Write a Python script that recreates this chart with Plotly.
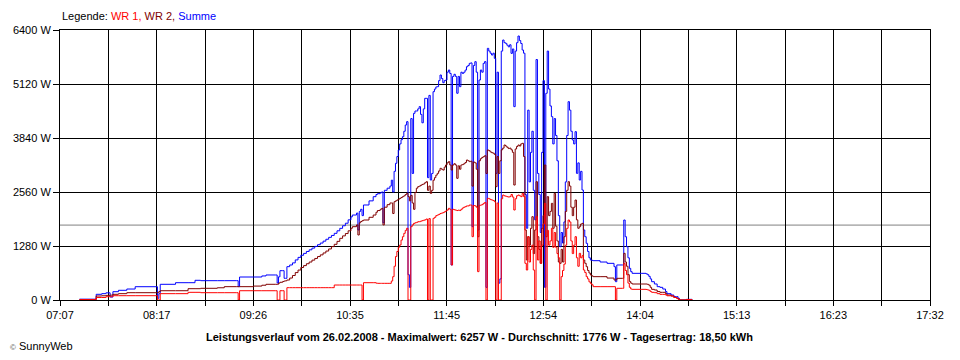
import plotly.graph_objects as go

# ---------------- data ----------------
times = [
    "07:21","07:32","07:33","07:37","07:40","07:43","07:45","07:49","07:55","08:01",
    "08:16","08:17","08:18","08:19","08:30","08:39","08:44","08:48","09:00","09:05",
    "09:14","09:15","09:16","09:26","09:32","09:35","09:42","09:43","09:44","09:45",
    "09:47","09:48","09:49","09:50",
    "09:52","09:54","09:56","09:58","10:00","10:02","10:04","10:06","10:08","10:10",
    "10:12","10:14","10:16","10:18","10:20","10:22","10:24","10:26","10:28","10:30",
    "10:32","10:34","10:36",
    "10:37","10:40","10:41","10:42","10:43","10:44","10:45",
    "10:49","10:52","10:54","10:55","10:57","10:58","10:59","11:00","11:02","11:04",
    "11:05","11:06","11:07","11:08","11:09","11:10","11:11","11:12","11:13","11:14",
    "11:15","11:16","11:17","11:18","11:19","11:20","11:21","11:22","11:23","11:24",
    "11:25","11:26","11:27","11:28","11:29","11:30","11:31","11:32","11:33","11:34",
    "11:35","11:36","11:37","11:38","11:39","11:40","11:41","11:42","11:43","11:44",
    "11:45","11:46","11:47","11:48","11:49","11:50","11:51","11:52","11:53","11:54",
    "11:55","11:56","11:57","11:58","11:59","12:00","12:01","12:02","12:03","12:04",
    "12:05","12:06","12:07","12:08","12:09","12:10","12:11","12:12","12:13","12:14",
    "12:15","12:16","12:17","12:18","12:19","12:20","12:21","12:22","12:23","12:24",
    "12:25","12:26","12:27","12:28","12:29","12:30","12:31","12:32","12:33","12:34",
    "12:35","12:36","12:37","12:38","12:39","12:40","12:41","12:42","12:43","12:44",
    "12:45","12:46","12:47","12:48","12:49","12:50","12:51","12:52","12:53","12:54",
    "12:55","12:56","12:57","12:58","12:59","13:00","13:01","13:02","13:03","13:04",
    "13:05","13:06","13:07","13:08","13:09","13:10","13:11","13:12","13:13","13:14",
    "13:15","13:16","13:17","13:18","13:19","13:20","13:21","13:22","13:23","13:24",
    "13:25","13:26","13:27","13:28","13:29","13:30","13:35","13:40","13:45","13:46",
    "13:47","13:51","13:52","13:53","13:54","13:55","13:56","13:57","13:58","14:05",
    "14:08","14:09","14:10","14:11","14:12","14:14","14:16","14:18","14:20","14:22",
    "14:23","14:26","14:28","14:30","14:31","14:32","14:36","14:37","14:40","14:41",
]

wr1 = [
    10,10,60,60,78,78,102,102,102,102,
    102,0,0,150,150,182,182,173,173,173,
    173,0,220,220,220,220,220,0,0,220,
    220,0,0,292,
    292,292,292,292,292,292,292,292,292,292,
    292,292,292,292,292,292,355,355,355,355,
    355,355,355,
    355,355,355,355,355,0,410,
    410,410,400,395,395,395,395,395,395,395,
    450,553,800,1030,1150,1250,1304,1420,1501,1580,
    1650,1700,0,0,1738,1780,1817,1830,1840,1856,
    1856,1870,1880,1890,1900,1920,0,1930,0,0,
    1936,1960,2000,2014,2030,2050,2060,2070,2090,2110,
    2133,2173,2150,830,2150,2140,2130,2120,2130,2120,
    2150,2180,2200,2212,2230,2230,2252,2250,1501,2240,
    2230,2200,672,2240,2250,2260,2290,2310,0,2410,
    2400,2380,2370,2360,2330,0,2300,0,0,2400,
    2488,2470,2460,2449,2440,2450,2500,2440,2133,2400,
    2470,2488,2470,2450,2528,2450,870,711,1500,900,
    1200,1300,711,0,1975,948,1400,870,1300,1800,
    2291,0,1650,1300,1400,1700,1250,1600,1250,1100,
    1000,0,553,700,850,1300,1700,1896,1850,1400,
    1100,1300,1501,1000,800,1106,1000,1050,711,650,
    553,500,430,395,360,316,316,316,316,0,
    277,277,869,700,600,400,300,260,253,253,
    250,240,230,200,182,173,150,134,134,118,
    100,95,60,40,20,0,0,10,10,0,
]

wr2 = [
    10,10,95,100,110,115,135,150,173,173,
    173,173,200,220,220,268,268,277,290,316,
    316,316,316,330,350,372,372,372,400,420,
    440,450,455,474,
    520,580,650,710,770,815,860,900,945,985,
    1030,1070,1115,1160,1210,1265,1320,1390,1462,1520,
    1575,1640,1700,
    1738,1780,1541,1830,1860,1880,1896,
    1960,2014,2080,2120,2150,2170,1780,2200,2260,2300,
    2300,2050,2330,2350,2370,2390,2410,2430,2450,2470,
    2500,2528,2450,2350,2480,2300,2150,2550,2650,2686,
    2700,2720,2740,2750,2780,2804,2600,2700,2528,2600,
    2840,2900,2960,3002,3060,3121,3100,3080,3150,3200,
    3250,3279,3200,3081,3200,3230,3200,2884,3180,3100,
    3200,3210,3230,3260,3318,3300,3280,3290,2700,3270,
    3250,3100,1500,3300,3350,3380,3398,3420,3000,3556,
    3540,3510,3492,3480,3450,2686,3400,3000,3300,3560,
    3600,3674,3650,3620,3590,3600,3560,3500,2725,3580,
    3640,3674,3650,3700,3714,3400,1660,948,1501,1300,
    1700,1975,1100,1660,2804,1500,1200,870,1700,2000,
    3200,1500,2449,2000,2100,2291,1700,2528,1750,1400,
    900,869,1200,900,1500,2100,2600,2804,2700,2200,
    2000,2200,2370,1900,1700,1738,1800,1817,948,870,
    790,700,640,593,570,553,553,520,474,474,
    514,514,1106,900,800,600,440,400,379,379,
    379,370,350,300,253,237,200,182,182,150,
    118,95,60,40,20,0,0,10,10,0,
]

summe = [
    20,20,135,150,170,70,197,230,260,315,
    315,40,150,372,410,410,467,458,458,458,
    458,316,545,545,570,593,593,403,550,695,
    695,514,514,790,
    830,880,950,1010,1060,1105,1150,1190,1230,1270,
    1310,1350,1395,1440,1485,1530,1580,1640,1699,1760,
    1820,1900,1970,
    2014,2060,1660,2100,2150,2000,2252,
    2350,2449,2500,2520,2540,2560,1830,2600,2650,2700,
    2840,2560,3050,3240,3400,3556,3700,3800,3871,4000,
    4148,4227,600,300,4300,3000,4425,4480,4480,4530,
    4583,4400,4200,4530,4780,4780,2900,4850,2844,3000,
    4938,5000,5050,5057,5200,5333,5250,5150,5200,5214,
    5400,5451,5370,830,5300,5350,5300,4900,5300,5057,
    5400,5370,5400,5450,5530,5560,5609,5620,1738,5560,
    5649,5400,1660,5214,5451,5400,5609,5650,300,5965,
    5900,5850,5807,5850,5728,3002,5400,400,500,5900,
    6162,6100,6083,6040,6000,6050,5846,5950,4583,5900,
    6100,6257,6150,6080,5925,5850,2500,1700,4500,2800,
    3500,4000,2600,1900,5700,3000,2500,1600,3500,5200,
    300,4900,5900,5000,4600,4346,3700,4300,3900,3300,
    2000,1264,1600,1350,1850,2800,3900,4701,4500,4000,
    3793,3700,3990,3002,3250,2844,3050,2607,1660,1500,
    1343,1150,1000,948,940,932,900,869,790,434,
    830,830,1896,1500,1264,1000,750,672,632,632,
    620,600,560,500,434,380,316,300,260,200,
    150,118,79,79,40,0,0,16,16,0,
]

average_w = 1776
x_start, x_end = "07:07", "17:32"
x_tick_labels = ["07:07", "08:17", "09:26", "10:35", "11:45",
                 "12:54", "14:04", "15:13", "16:23", "17:32"]
y_ticks = [0, 1280, 2560, 3840, 5120, 6400]
y_tick_labels = [f"{v} W" for v in y_ticks]

title_text = ("Leistungsverlauf vom 26.02.2008 - Maximalwert: 6257 W - "
              "Durchschnitt: 1776 W - Tagesertrag: 18,50 kWh")

assert len(times) == len(wr1) == len(wr2) == len(summe)


def to_min(t):
    h, m = t.split(":")
    return int(h) * 60 + int(m)


x = [to_min(t) for t in times]
x0, x1 = to_min(x_start), to_min(x_end)
n_grid = 2 * (len(x_tick_labels) - 1)
grid_vals = [x0 + i * (x1 - x0) / n_grid for i in range(n_grid + 1)]
grid_text = [x_tick_labels[i // 2] if i % 2 == 0 else "" for i in range(n_grid + 1)]

FONT = "Liberation Sans, Arial, sans-serif"

fig = go.Figure()
fig.add_trace(go.Scatter(x=x, y=summe, mode="lines", line=dict(color="#0000FF", width=1, shape="hv"), name="Summe"))
fig.add_trace(go.Scatter(x=x, y=wr2, mode="lines", line=dict(color="#800000", width=1, shape="hv"), name="WR 2"))
fig.add_trace(go.Scatter(x=x, y=wr1, mode="lines", line=dict(color="#FF0000", width=1, shape="hv"), name="WR 1"))

fig.add_shape(type="line", xref="paper", x0=0, x1=1, yref="y", y0=average_w, y1=average_w,
              line=dict(color="#808080", width=1), layer="below")

# the page body has an 8px default margin: size the figure so the plot area
# lands at x 60..930, y 30..300 of the 960x360 window
fig.update_layout(
    width=952, height=352,
    margin=dict(l=52, r=30, t=22, b=60, autoexpand=False),
    paper_bgcolor="white", plot_bgcolor="white",
    showlegend=False,
    font=dict(family=FONT, size=11, color="black"),
    xaxis=dict(range=[x0, x1], tickmode="array", tickvals=grid_vals, ticktext=grid_text,
               automargin=False,
               showgrid=True, gridcolor="black", gridwidth=1, zeroline=False,
               showline=True, linecolor="black", linewidth=1, mirror=True,
               ticks="outside", ticklen=5, tickcolor="black", tickwidth=1),
    yaxis=dict(range=[0, 6400], tickmode="array", tickvals=y_ticks, ticktext=y_tick_labels,
               automargin=False,
               showgrid=True, gridcolor="black", gridwidth=1, zeroline=False,
               showline=True, linecolor="black", linewidth=1, mirror=True,
               ticks="outside", ticklen=6, tickcolor="black", tickwidth=1),
)

legend_html = ('Legende: <span style="color:#FF0000">WR 1,</span> '
               '<span style="color:#800000">WR 2,</span> '
               '<span style="color:#0000FF">Summe</span>')
fig.add_annotation(text=legend_html, xref="paper", yref="paper",
                   x=0.0, y=(300 - 16) / 270, xanchor="left", yanchor="middle",
                   showarrow=False, font=dict(family=FONT, size=11, color="black"))
fig.add_annotation(text="<b>" + title_text + "</b>", xref="paper", yref="paper",
                   x=(479 - 60) / 870, y=(300 - 337) / 270, xanchor="center", yanchor="middle",
                   showarrow=False, font=dict(family=FONT, size=11, color="black"))
fig.add_annotation(text='<span style="font-size:8px;color:#555555">©</span> SunnyWeb',
                   xref="paper", yref="paper",
                   x=(9 - 60) / 870, y=(300 - 346) / 270, xanchor="left", yanchor="middle",
                   showarrow=False, borderpad=0, font=dict(family=FONT, size=11, color="black"))

fig.write_html("out.html")
